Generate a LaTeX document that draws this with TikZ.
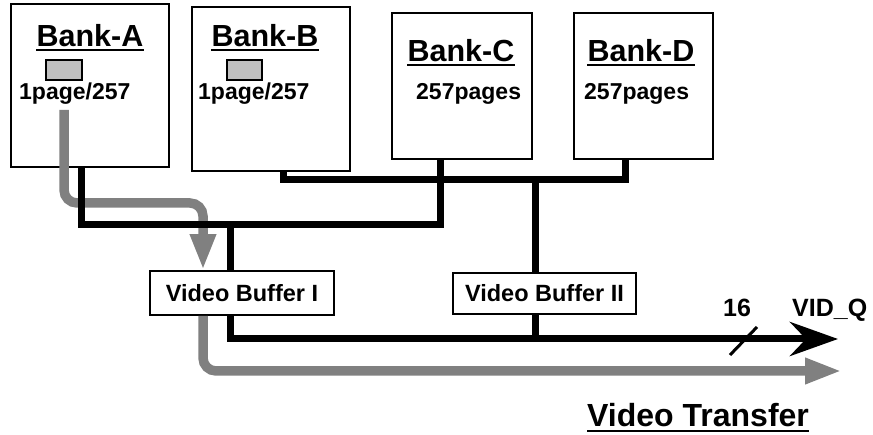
\documentclass[tikz,border=0pt]{standalone}
\usepackage{fontspec}
\setmainfont{Liberation Sans}
\usetikzlibrary{arrows.meta}
\definecolor{flowgray}{HTML}{808080}
\definecolor{pagegray}{HTML}{C0C0C0}
\begin{document}
\begin{tikzpicture}[x=1pt,y=-1pt,
  bank/.style={draw,line width=1.8pt,fill=white,inner sep=0pt},
  buf/.style={draw,line width=1.8pt,fill=white,inner sep=0pt,
    font=\bfseries\fontsize{23.5}{23.5}\selectfont},
  title/.style={inner sep=0pt,anchor=base,font=\bfseries\fontsize{30.5}{30.5}\selectfont},
  lbl/.style={inner sep=0pt,anchor=base west,font=\bfseries\fontsize{23}{23}\selectfont},
  uline/.style={line width=2pt},
  pagebox/.style={draw,line width=1.8pt,fill=pagegray},
  bus/.style={line width=7pt,line join=miter},
  flow/.style={line width=9.5pt,draw=flowgray,rounded corners=13pt},
]
\useasboundingbox (0,0) rectangle (873,435);

% memory banks
\node[bank,minimum width=158pt,minimum height=163pt] (bankA) at (90,85.5) {};
\node[bank,minimum width=158pt,minimum height=164pt] (bankB) at (271,89) {};
\node[bank,minimum width=140pt,minimum height=146pt] (bankC) at (462,86) {};
\node[bank,minimum width=139pt,minimum height=146pt] (bankD) at (643.5,86) {};

% bank titles, underlined
\node[title] (tA) at (90,47) {Bank-A};
\node[title] (tB) at (265,47) {Bank-B};
\node[title] (tC) at (461,62) {Bank-C};
\node[title] (tD) at (641,62) {Bank-D};
\foreach \t in {tA,tB,tC,tD}
  \draw[uline] ([yshift=-3.5pt]\t.base west) -- ([yshift=-3.5pt]\t.base east);

% page markers and capacities
\draw[pagebox] (46,60) rectangle (82,80);
\draw[pagebox] (227,60) rectangle (262,80);
\node[lbl] (pA) at (19,100) {1page/257};
\node[lbl] (pB) at (198,100) {1page/257};
\node[lbl] (pC) at (416,100) {257pages};
\node[lbl] (pD) at (584,100) {257pages};

% video buffers
\node[buf,minimum width=184pt,minimum height=44pt] (vb1) at (242,293) {Video Buffer I};
\node[buf,minimum width=183pt,minimum height=41pt] (vb2) at (544.5,293.5) {Video Buffer II};

% bus junctions
\coordinate (acL) at (81,225);
\coordinate (acR) at (440,225);
\coordinate (bdL) at (283,180);
\coordinate (bdR) at (625,180);
\coordinate (t1) at (230,225);
\coordinate (t2) at (535,180);
\coordinate (o1) at (230,339);
\coordinate (o2) at (535,339);
\coordinate (qEnd) at (838,339);

% transfer path (gray)
\coordinate (g0) at (64,110);
\coordinate (g1) at (64,203);
\coordinate (g2) at (203,203);
\coordinate (g3) at (203,371);
\coordinate (gEnd) at (842,371);
\draw[flow,-{Triangle[length=36pt,width=24pt]}]
  (g0) -- (g1) -- (g2) -- (vb1.north -| g2);
\draw[flow,-{Triangle[length=37pt,width=24pt]}]
  (vb1.south -| g3) -- (g3) -- (gEnd);

% data buses (black)
\draw[bus] (bankA.south -| acL) -- (acL) -- (acR) -- (bankC.south -| acR);
\draw[bus] (bankB.south -| bdL) -- (bdL) -- (bdR) -- (bankD.south -| bdR);
\draw[bus] (t1) -- (vb1.north -| t1);
\draw[bus] (t2) -- (vb2.north -| t2);
\draw[bus,-{Stealth[length=48pt,width=34pt,inset=16pt]}]
  (vb1.south -| o1) -- (o1) -- (qEnd);
\draw[bus] (vb2.south -| o2) -- (o2);

% bus width mark and output label
\coordinate (s0) at (730,355);
\coordinate (s1) at (757,327);
\draw[line width=3pt] (s0) -- (s1);
\node[inner sep=0pt,anchor=base,font=\bfseries\fontsize{25}{25}\selectfont] (w16) at (737,317) {16};
\node[inner sep=0pt,anchor=base west,font=\bfseries\fontsize{25}{25}\selectfont] (vidq) at (792,317) {VID\_Q};

% caption
\node[inner sep=0pt,anchor=base west,font=\bfseries\fontsize{32}{32}\selectfont] (cap) at (587,427) {Video Transfer};
\draw[uline] ([yshift=-4pt]cap.base west) -- ([yshift=-4pt]cap.base east);
\end{tikzpicture}
\end{document}
